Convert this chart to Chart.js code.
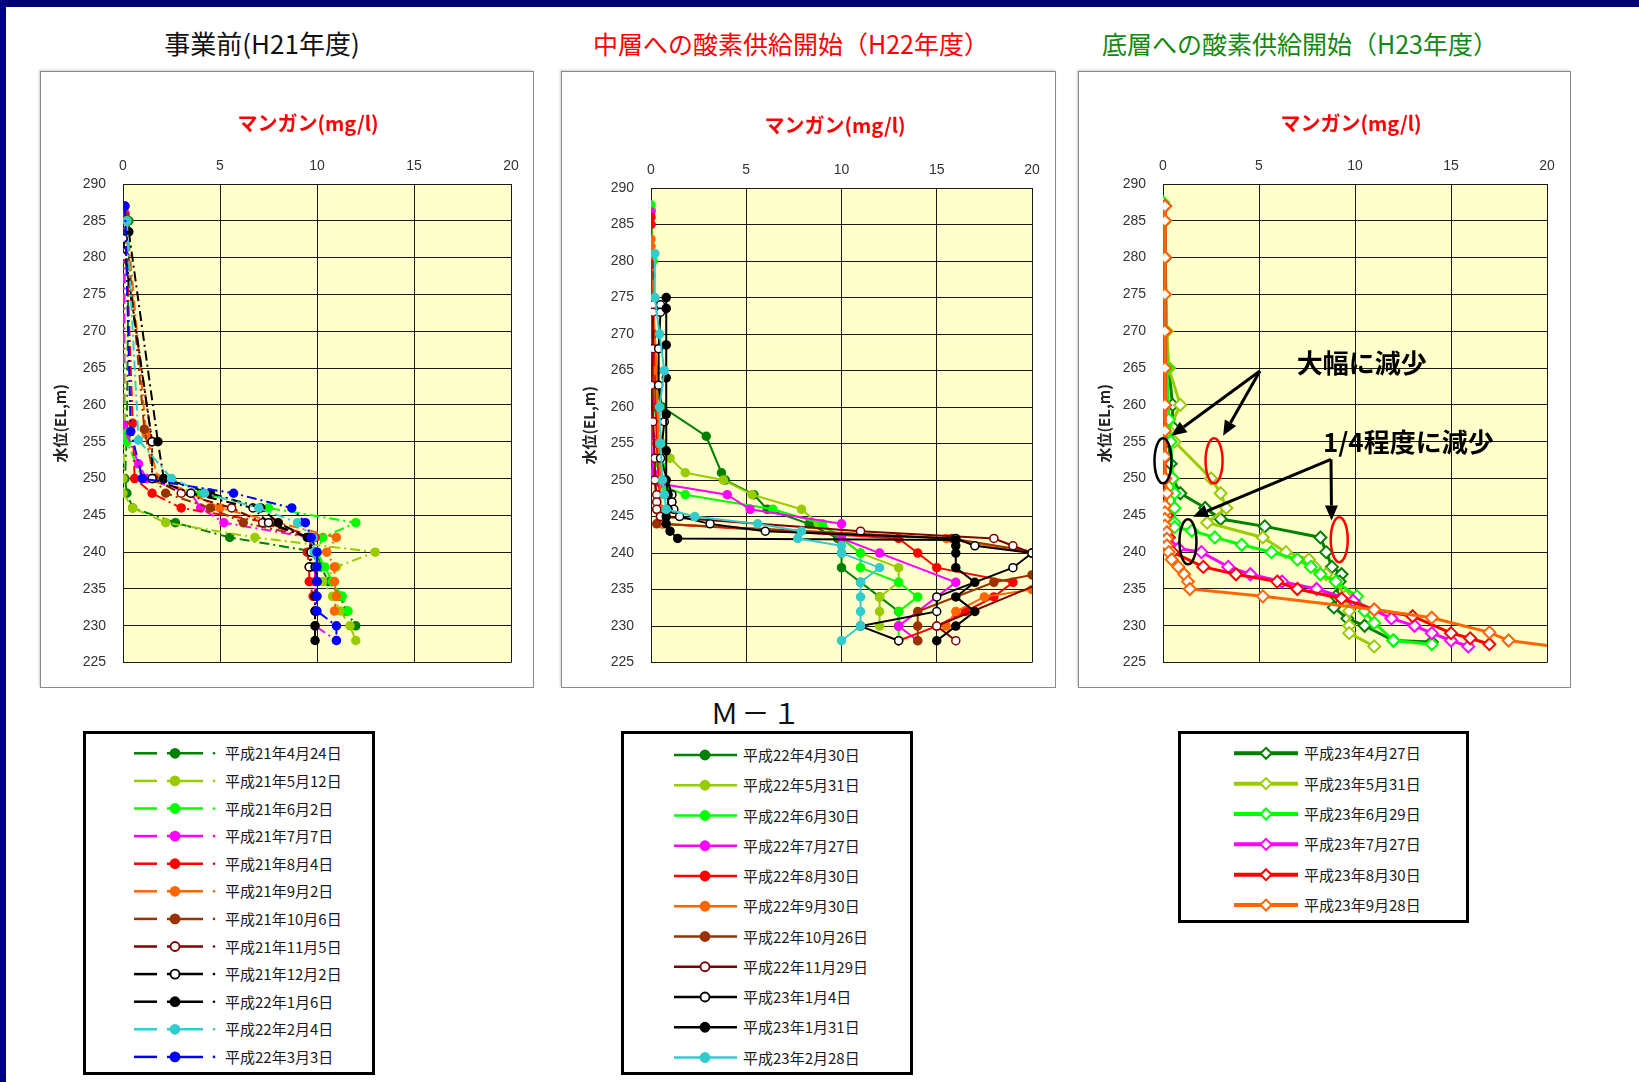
<!DOCTYPE html>
<html lang="ja">
<head>
<meta charset="utf-8">
<script src="https://cdn.jsdelivr.net/npm/chart.js@4.4.1/dist/chart.umd.min.js"></script>
<style>
  html, body { margin: 0; padding: 0; background: #fff; }
  body { width: 1639px; height: 1082px; position: relative; overflow: hidden; font-family: "Noto Sans CJK JP", sans-serif; }
  .barTop { position: absolute; left: 0; top: 0; width: 1639px; height: 7px; background: #00006e; }
  .barLeft { position: absolute; left: 0; top: 0; width: 6px; height: 1082px; background: #000080; }
  .heading { position: absolute; top: 26px; font-size: 25px; line-height: 34px; white-space: nowrap; transform: translateX(-50%); }
  .frame { position: absolute; border: 1px solid #8a8a8a; box-sizing: border-box; box-shadow: -1px -1px 2px #d0d0d0; background: #fff; }
  .chartBox { position: absolute; }
  .mnTitle { position: absolute; top: 109px; font-size: 20px; line-height: 28px; font-weight: bold; color: #f00; white-space: nowrap; transform: translateX(-50%); }
  .legend { position: absolute; border: 3px solid #000; box-sizing: border-box; background: #fff; }
  .legText { position: absolute; font-size: 15px; line-height: 20px; color: #1a1a1a; white-space: nowrap; }
  .mLabel { position: absolute; left: 757px; top: 695px; font-size: 28px; line-height: 34px; letter-spacing: 3px; transform: translateX(-50%); color: #111; }
</style>
</head>
<body>
<div class="barTop"></div>
<div class="barLeft"></div>

<div class="heading" style="left:262px; font-size:26px; color:#111;">事業前(H21年度)</div>
<div class="heading" style="left:791px; color:#f00;">中層への酸素供給開始（H22年度）</div>
<div class="heading" style="left:1300px; color:#118811;">底層への酸素供給開始（H23年度）</div>

<div class="frame" style="left:40px; top:71px; width:494px; height:617px;"></div>
<div class="frame" style="left:561px; top:71px; width:495px; height:617px;"></div>
<div class="frame" style="left:1078px; top:71px; width:493px; height:617px;"></div>

<canvas id="c1" class="chartBox" style="left:40px; top:71px;" width="494" height="617"></canvas>
<canvas id="c2" class="chartBox" style="left:561px; top:71px;" width="495" height="617"></canvas>
<canvas id="c3" class="chartBox" style="left:1078px; top:71px;" width="493" height="617"></canvas>

<div class="mnTitle" style="left:308px;">マンガン(mg/l)</div>
<div class="mnTitle" style="left:835px; top:111px;">マンガン(mg/l)</div>
<div class="mnTitle" style="left:1351px;">マンガン(mg/l)</div>

<div class="mLabel">Ｍ－１</div>

<div id="leg1" class="legend" style="left:83px; top:731px; width:292px; height:344px;"></div>
<div id="leg2" class="legend" style="left:621px; top:731px; width:292px; height:344px;"></div>
<div id="leg3" class="legend" style="left:1178px; top:731px; width:291px; height:192px;"></div>

<script>
// 各系列は [標高(EL,m), マンガン(mg/l)] の組

// ---- 事業前 (H21年度) ----
const h21Dates = ['平成21年4月24日', '平成21年5月12日', '平成21年6月2日', '平成21年7月7日', '平成21年8月4日', '平成21年9月2日',
                  '平成21年10月6日', '平成21年11月5日', '平成21年12月2日', '平成22年1月6日', '平成22年2月4日', '平成22年3月3日'];
const h21_0424 = [[285,0.3],[256,0.2],[250,0.1],[248,0.2],[246,0.5],[244,2.7],[242,5.5],[240,10.0],[238,10.2],[236,10.6],[234,11.2],[232,11.5],[230,12.0]];
const h21_0512 = [[286,0.1],[256,0.1],[250,0.0],[248,0.0],[246,0.5],[244,2.2],[242,6.8],[240,13.0],[238,11.0],[236,10.3],[234,10.8],[232,11.2],[230,11.7],[228,12.0]];
const h21_0602 = [[286,0.1],[256.7,0.0],[255,0.2],[250,1.0],[248,4.0],[246,7.5],[244,12.0],[242,10.3],[240,10.0],[238,10.4],[236,10.8],[234,11.3],[232,11.6]];
const h21_0707 = [[286,0.1],[257.3,0.0],[252,0.8],[250,1.2],[248,3.5],[246,4.0],[244,5.2],[242,9.6],[240,9.8],[238,9.9],[236,9.9],[234,9.9],[232,9.9],[230,9.9],[228,11.0]];
const h21_0804 = [[287,0.1],[257.5,0.5],[250,0.6],[248,1.5],[246,3.0],[244,7.6],[242,9.9],[240,9.5],[238,9.6],[236,9.6],[234,9.8]];
const h21_0902 = [[285,0.2],[256,1.2],[250,1.8],[248,3.5],[246,5.0],[244,8.0],[242,11.0],[240,10.5],[238,10.9],[236,10.9],[234,11.0],[232,10.9]];
const h21_1006 = [[285.7,0.1],[256.7,1.1],[250,1.6],[248,2.2],[246,4.5],[244,6.2],[242,9.7],[240,9.6]];
const h21_1105 = [[280.2,0.1],[255,1.5],[250,1.5],[248,3.0],[246,5.6],[244,7.2],[242,9.6],[240,9.7],[238,9.7]];
const h21_1202 = [[282.6,0.0],[255,1.5],[250,1.5],[248,3.5],[246,6.7],[244,7.5],[242,9.6],[240,9.7],[238,9.6]];
const h22_0106 = [[283.5,0.3],[255,1.8],[250,2.1],[248,4.5],[246,7.1],[244,8.0],[242,9.5],[240,9.9],[238,9.9],[236,10.0],[234,9.9],[232,9.9],[230,9.9],[228,9.9]];
const h22_0204 = [[285,0.2],[255.2,0.8],[250,2.5],[248,4.2],[246,7.0],[244,9.0],[242,9.8],[240,9.85],[238,10.0]];
const h22_0303 = [[287,0.1],[256.4,0.4],[250,1.0],[248,5.7],[246,8.7],[244,9.4],[242,9.7],[240,10.0],[238,10.0],[236,10.0],[234,10.0],[232,10.0],[230,11.0],[228,11.0]];
const h21Series = [h21_0424, h21_0512, h21_0602, h21_0707, h21_0804, h21_0902, h21_1006, h21_1105, h21_1202, h22_0106, h22_0204, h22_0303];
const h21Colors = ['#008000', '#99cc00', '#00ff00', '#ff00ff', '#ff0000', '#ff6600', '#993300', '#800000', '#000000', '#000000', '#33cccc', '#0000ff'];
const h21Open = [false, false, false, false, false, false, false, true, true, false, false, false];

// ---- 中層への酸素供給開始 (H22年度) ----
const h22Dates = ['平成22年4月30日', '平成22年5月31日', '平成22年6月30日', '平成22年7月27日', '平成22年8月30日', '平成22年9月30日',
                  '平成22年10月26日', '平成22年11月29日', '平成23年1月4日', '平成23年1月31日', '平成23年2月28日'];
const h22_0430 = [[287,0.0],[280,0.1],[270,0.1],[262,0.3],[260,0.6],[256,2.9],[251,3.7],[250,3.9],[248,5.4],[246,6.1],[244,8.3],[242,9.8],[240,10.0],[238,10.0],[236,11.0],[234,12.0],[232,13.0],[230,13.0]];
const h22_0531 = [[287,0.0],[275,0.1],[265,0.2],[258,0.4],[255,0.6],[253,1.0],[251,1.8],[250,3.8],[248,5.3],[246,7.9],[244,8.8],[242,10.0],[240,11.0],[238,13.0],[236,13.0],[234,12.0],[232,12.0],[230,12.0]];
const h22_0630 = [[287.7,0.0],[280,0.1],[270,0.1],[260,0.2],[252,0.5],[250,0.6],[249,0.8],[248,1.8],[246,6.4],[244,9.0],[242,10.0],[240,11.0],[238,11.0],[236,13.0],[234,14.0],[232,13.0],[230,13.0],[228,13.0]];
const h22_0727 = [[286.7,0.0],[285,0.0],[270,0.0],[261,0.0],[256,0.0],[251,0.1],[249.5,0.5],[248,4.0],[246,5.2],[244,10.0],[242,10.0],[240,12.0],[236,16.0],[230,13.0],[228,14.0]];
const h22_0830 = [[286,0.0],[285,0.0],[275,0.1],[265,0.2],[255,0.3],[250,0.4],[246,0.5],[244,0.6],[242,13.0],[240,14.0],[238,15.0],[236,19.0],[234,18.0],[232,16.5],[230,15.0],[228,13.0]];
const h22_0930 = [[283,0.0],[282,0.0],[275,0.1],[265,0.3],[255,0.4],[250,0.5],[246,0.5],[244,0.6],[242,15.5],[240,20.0],[238,22.0],[235,20.0],[234,17.5],[232,16.0],[230,15.5]];
const h22_1026 = [[279.5,0.0],[278,0.0],[270,0.1],[260,0.1],[250,0.2],[246,0.3],[244,0.3],[242,15.8],[240,20.5],[237,20.0],[236,18.0],[232,14.0],[230,14.0],[228,14.0]];
const h22_1129 = [[274,0.1],[273,0.1],[268,0.1],[263,0.0],[258,0.1],[253,0.2],[250,0.2],[248,0.3],[247,0.3],[246,0.3],[245,0.5],[243,11.0],[242,18.0],[241,19.0],[240,20.0],[237,21.5],[230,15.0],[228,16.0]];
const h23_0104 = [[274,0.5],[273,0.5],[268,0.4],[263,0.4],[258,0.7],[253,0.5],[248,1.1],[247,1.1],[246,1.2],[245,1.5],[244,3.1],[243,6.0],[242,16.0],[241,17.0],[240,20.0],[238,19.0],[234,15.0],[232,15.0],[230,11.0],[228,13.0]];
const h23_0131 = [[275,0.8],[273.5,0.8],[268.5,0.8],[264,0.8],[259,0.8],[254,0.8],[250,0.8],[248,0.9],[246,0.9],[245,0.8],[244,0.8],[243,1.0],[242,1.4],[241.8,16.0],[241,16.0],[240,16.0],[238,16.0],[236,17.0],[234,16.0],[232,17.0],[230,16.0],[228,15.0]];
const h23_0228 = [[281,0.2],[275,0.2],[270,0.45],[265,0.7],[260,0.45],[255,0.5],[250,0.6],[248,0.7],[246,0.8],[245,2.3],[244,5.6],[243,7.9],[242,7.7],[241,10.0],[240,10.0],[238,12.0],[236,11.0],[234,11.0],[232,11.0],[230,11.0],[228,10.0]];
const h22Series = [h22_0430, h22_0531, h22_0630, h22_0727, h22_0830, h22_0930, h22_1026, h22_1129, h23_0104, h23_0131, h23_0228];
const h22Colors = ['#008000', '#99cc00', '#00ff00', '#ff00ff', '#ff0000', '#ff6600', '#993300', '#800000', '#000000', '#000000', '#33cccc'];
const h22Open = [false, false, false, false, false, false, false, true, true, false, false];

// ---- 底層への酸素供給開始 (H23年度) ----
const h23Dates = ['平成23年4月27日', '平成23年5月31日', '平成23年6月29日', '平成23年7月27日', '平成23年8月30日', '平成23年9月28日'];
const h23_0427 = [[287,0.1],[285,0.1],[280,0.1],[270,0.1],[265,0.3],[260,0.5],[257,0.5],[255,0.3],[252,0.4],[250,0.5],[248,0.9],[246,2.2],[244.5,3.0],[243.5,5.3],[242,8.2],[240,8.5],[238,8.8],[237,9.3],[236,9.2],[234,9.0],[232.5,8.9],[231,9.6],[230,10.5],[228,12.0],[227.8,14.0]];
const h23_0531 = [[287,0.1],[280,0.1],[270,0.2],[265,0.3],[260,0.9],[256.5,0.3],[255,0.6],[250,2.5],[248,3.0],[246,3.3],[244,2.3],[242,5.2],[240,6.4],[239,7.6],[238,7.9],[237,8.5],[236,9.0],[234,9.5],[232,9.7],[230,9.7],[229,9.7],[227.2,11.0]];
const h23_0629 = [[287.5,0.0],[285,0.1],[265,0.2],[258,0.3],[255,0.4],[250,0.5],[248,0.6],[246,0.6],[244,0.6],[243.4,0.6],[242.9,1.5],[242,2.7],[241,4.1],[240,5.65],[239,7.0],[238,7.7],[237,8.2],[236,9.0],[234,10.1],[232,10.5],[230.4,11.0],[228,12.0],[227.5,14.0]];
const h23_0727 = [[287,0.1],[280,0.1],[270,0.1],[260,0.1],[250,0.1],[245,0.2],[242,0.3],[240.5,0.8],[240,2.0],[238,3.4],[237,4.55],[236,6.2],[235,8.0],[233.4,9.9],[231,11.9],[230,13.1],[229,14.0],[228,15.0],[227.2,15.9]];
const h23_0830 = [[287,0.1],[280,0.1],[270,0.1],[260,0.1],[250,0.1],[245,0.2],[242,0.3],[240,0.5],[238,2.1],[237,3.8],[236,5.95],[235,7.0],[233.7,9.3],[232.2,11.0],[231.3,13.0],[229,15.0],[228.3,16.0],[227.5,17.0]];
const h23_0928 = [[287,0.1],[285,0.1],[280,0.1],[275,0.1],[270,0.1],[265,0.1],[260,0.1],[256.5,0.1],[253,0.1],[250,0.1],[248,0.2],[246.3,0.1],[245.4,0.1],[244.5,0.1],[243.6,0.1],[242.7,0.2],[241.8,0.2],[240.9,0.2],[240,0.3],[239,0.45],[238,0.8],[237,1.1],[236,1.3],[235,1.4],[234,5.2],[232.2,11.0],[231.1,14.0],[229.1,17.0],[228,18.0],[227,21.0]];
const h23Series = [h23_0427, h23_0531, h23_0629, h23_0727, h23_0830, h23_0928];
const h23Colors = ['#008000', '#99cc00', '#00ff00', '#ff00ff', '#ff0000', '#ff6600'];

// 注記 (第3グラフ, データ座標: [マンガン, 標高])
const noteTexts = [['大幅に減少', 6.97, 265.65], ['1/4程度に減少', 8.33, 254.9]];
const noteArrows = [
    [[5.05, 264.6], [0.44, 255.8]], [[5.05, 264.6], [3.13, 255.8]],
    [[8.75, 252.6], [1.56, 244.8]], [[8.75, 252.6], [8.78, 244.3]]
];
const noteRings = [[0, 252.4, '#000'], [2.66, 252.4, '#f00'], [1.30, 241.4, '#000'], [9.18, 241.7, '#f00']];

// 背景 (薄い黄色)
const plotBg = {
    id: 'plotBg',
    beforeDraw(chart) {
        const a = chart.chartArea, ctx = chart.ctx;
        ctx.save();
        ctx.fillStyle = '#ffffcc';
        ctx.fillRect(a.left, a.top, a.right - a.left, a.bottom - a.top);
        ctx.restore();
    }
};

function drawArrow(ctx, x0, y0, x1, y1) {
    const ang = Math.atan2(y1 - y0, x1 - x0), hl = 15, hw = 6.5;
    const bx = x1 - hl * Math.cos(ang), by = y1 - hl * Math.sin(ang);
    ctx.beginPath(); ctx.moveTo(x0, y0); ctx.lineTo(bx, by); ctx.stroke();
    ctx.beginPath();
    ctx.moveTo(x1, y1);
    ctx.lineTo(bx + hw * Math.sin(ang), by - hw * Math.cos(ang));
    ctx.lineTo(bx - hw * Math.sin(ang), by + hw * Math.cos(ang));
    ctx.closePath(); ctx.fill();
}

const notes = {
    id: 'notes',
    afterDatasetsDraw(chart) {
        const ctx = chart.ctx, xs = chart.scales.x, ys = chart.scales.y;
        ctx.save();
        ctx.lineWidth = 2.5;
        noteRings.forEach(r => {
            ctx.strokeStyle = r[2];
            ctx.beginPath();
            ctx.ellipse(xs.getPixelForValue(r[0]), ys.getPixelForValue(r[1]), 8.5, 22.5, 0, 0, Math.PI * 2);
            ctx.stroke();
        });
        ctx.strokeStyle = '#000'; ctx.fillStyle = '#000'; ctx.lineWidth = 3;
        noteArrows.forEach(a => {
            drawArrow(ctx, xs.getPixelForValue(a[0][0]), ys.getPixelForValue(a[0][1]),
                           xs.getPixelForValue(a[1][0]), ys.getPixelForValue(a[1][1]));
        });
        ctx.font = 'bold 26px "Noto Sans CJK JP"';
        ctx.textBaseline = 'middle'; ctx.textAlign = 'left';
        noteTexts.forEach(t => ctx.fillText(t[0], xs.getPixelForValue(t[1]), ys.getPixelForValue(t[2])));
        ctx.restore();
    }
};

function scalesFor(yWidth, xHeight) {
    const tickFont = { family: 'Liberation Sans', size: 14 };
    return {
        x: {
            type: 'linear', position: 'top', min: 0, max: 20,
            ticks: { stepSize: 5, padding: 9, color: '#333', font: tickFont },
            grid: { color: '#1a1a1a', lineWidth: 1, drawTicks: false },
            border: { color: '#1a1a1a' },
            afterFit: s => { s.height = xHeight; }
        },
        y: {
            type: 'linear', min: 225, max: 290,
            ticks: { stepSize: 5, padding: 17, color: '#333', font: tickFont },
            grid: { color: '#1a1a1a', lineWidth: 1, drawTicks: false },
            border: { color: '#1a1a1a' },
            title: { display: true, text: '水位(EL,m)', color: '#222', padding: { top: 4, bottom: 4 },
                     font: { family: 'Noto Sans CJK JP', size: 15, weight: 'bold' } },
            afterFit: s => { s.width = yWidth; }
        }
    };
}

function buildChart(id, datasets, pad, yWidth, xHeight, extra) {
    new Chart(document.getElementById(id), {
        type: 'scatter',
        data: { datasets: datasets },
        options: {
            responsive: false, animation: false, events: [],
            layout: { padding: pad },
            plugins: { legend: { display: false }, tooltip: { enabled: false } },
            scales: scalesFor(yWidth, xHeight)
        },
        plugins: [plotBg].concat(extra || [])
    });
}

const toPts = s => s.map(p => ({ x: p[1], y: p[0] }));

// グラフ1: 一点鎖線 + 丸マーカー
const ds1 = h21Series.map((s, i) => ({
    label: h21Dates[i], data: toPts(s), showLine: true,
    borderColor: h21Colors[i], borderWidth: 2, borderDash: [10, 4, 2, 4],
    pointRadius: 4, pointBorderWidth: 1.5, pointBorderColor: h21Colors[i],
    pointBackgroundColor: h21Open[i] ? '#fff' : h21Colors[i],
    order: h21Series.length - i
}));
buildChart('c1', ds1, { left: 7, top: 80, right: 23, bottom: 20 }, 76, 33);

// グラフ2: 実線 + 丸マーカー
const ds2 = h22Series.map((s, i) => ({
    label: h22Dates[i], data: toPts(s), showLine: true,
    borderColor: h22Colors[i], borderWidth: 2,
    pointRadius: 4, pointBorderWidth: 1.5, pointBorderColor: h22Colors[i],
    pointBackgroundColor: h22Open[i] ? '#fff' : h22Colors[i],
    order: h22Series.length - i
}));
buildChart('c2', ds2, { left: 15, top: 80, right: 24, bottom: 20 }, 75, 37);

// グラフ3: 太線 + 白抜きひし形
const ds3 = h23Series.map((s, i) => ({
    label: h23Dates[i], data: toPts(s), showLine: true,
    borderColor: h23Colors[i], borderWidth: 3,
    pointStyle: 'rectRot', pointRadius: 6, pointBorderWidth: 2,
    pointBorderColor: h23Colors[i], pointBackgroundColor: '#fff',
    order: h23Series.length - i
}));
buildChart('c3', ds3, { left: 13, top: 80, right: 24, bottom: 19 }, 72, 33, [notes]);

// 凡例 (HTML + SVG)
const SVGNS = 'http://www.w3.org/2000/svg';
function svgEl(tag, attrs) {
    const e = document.createElementNS(SVGNS, tag);
    Object.keys(attrs).forEach(k => e.setAttribute(k, attrs[k]));
    return e;
}
function buildLegend(boxId, dates, colors, open, cfg) {
    const box = document.getElementById(boxId);
    const r = box.getBoundingClientRect();
    const svg = svgEl('svg', { width: r.width, height: r.height });
    svg.style.position = 'absolute'; svg.style.left = '-3px'; svg.style.top = '-3px';
    box.appendChild(svg);
    dates.forEach((d, i) => {
        const cy = cfg.y0 + i * cfg.dy - r.top, c = colors[i];
        const X = v => v - r.left;
        if (cfg.dash) {
            svg.appendChild(svgEl('line', { x1: X(cfg.dash[0]), x2: X(cfg.dash[1]), y1: cy, y2: cy, stroke: c, 'stroke-width': 2.5 }));
            svg.appendChild(svgEl('circle', { cx: X(cfg.dot), cy: cy, r: 1.3, fill: c }));
        }
        svg.appendChild(svgEl('line', { x1: X(cfg.line[0]), x2: X(cfg.line[1]), y1: cy, y2: cy, stroke: c, 'stroke-width': cfg.lw }));
        const mx = X(cfg.mark);
        if (cfg.diamond) {
            const h = 5.5;
            svg.appendChild(svgEl('polygon', { points: `${mx},${cy - h} ${mx + h},${cy} ${mx},${cy + h} ${mx - h},${cy}`, fill: '#fff', stroke: c, 'stroke-width': 2 }));
        } else {
            svg.appendChild(svgEl('circle', { cx: mx, cy: cy, r: 4.5, fill: open && open[i] ? '#fff' : c, stroke: c, 'stroke-width': 1.8 }));
        }
        const t = document.createElement('div');
        t.className = 'legText';
        t.textContent = d;
        t.style.left = (cfg.text - r.left - 3) + 'px';
        t.style.top = (cy - 10 - 3) + 'px';
        box.appendChild(t);
    });
}
buildLegend('leg1', h21Dates, h21Colors, h21Open, { y0: 753.3, dy: 27.6, dash: [134, 157], dot: 214, line: [167, 203], mark: 175, lw: 2.5, text: 225 });
buildLegend('leg2', h22Dates, h22Colors, h22Open, { y0: 755, dy: 30.25, line: [674, 737], mark: 705, lw: 2.5, text: 743 });
buildLegend('leg3', h23Dates, h23Colors, null, { y0: 753.3, dy: 30.35, line: [1234, 1298], mark: 1266, lw: 4, diamond: true, text: 1304 });
</script>
</body>
</html>
